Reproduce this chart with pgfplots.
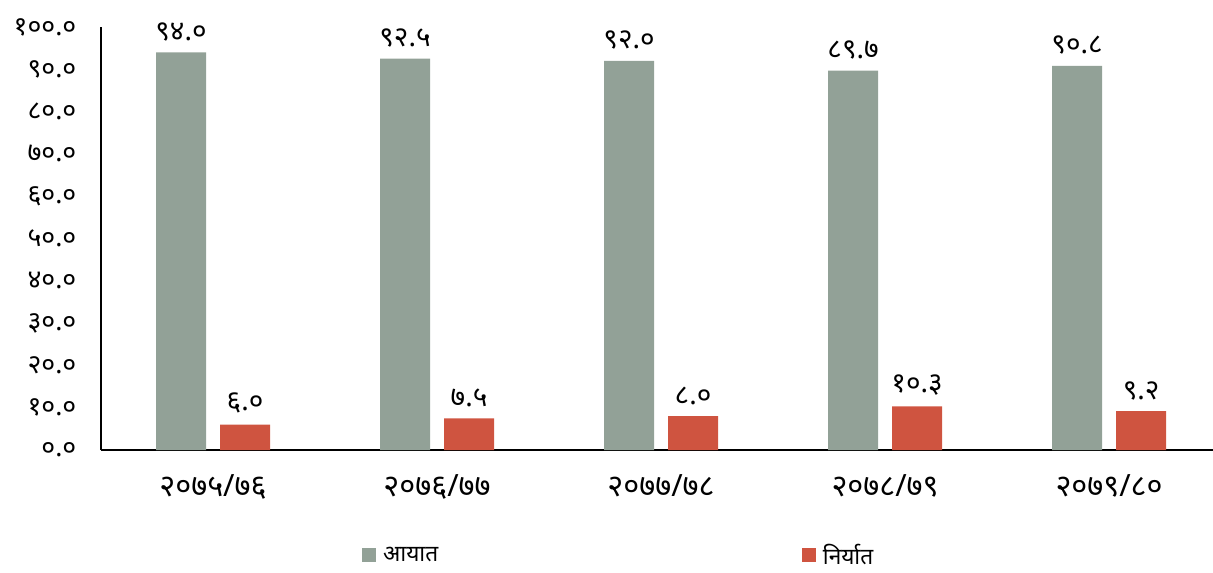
\documentclass[border=0pt]{standalone}
\usepackage{fontspec}
\setmainfont[Script=Devanagari]{Noto Sans}
\usepackage{pgfplots}
\pgfplotsset{compat=1.18}
\definecolor{aayat}{RGB}{146,161,151}
\definecolor{niryat}{RGB}{207,84,64}
\begin{document}
\begin{tikzpicture}
\begin{axis}[
    width=834pt, height=317.25pt,
    scale only axis,
    ybar,
    bar width=37.5pt,
    ymin=0, ymax=100,
    xmin=-0.5, xmax=4.464,
    axis lines=left,
    axis line style={-, line width=1.4pt},
    major tick length=0pt,
    ytick={0,10,20,30,40,50,60,70,80,90,100},
    yticklabels={०.०,१०.०,२०.०,३०.०,४०.०,५०.०,६०.०,७०.०,८०.०,९०.०,१००.०},
    xtick={0,1,2,3,4},
    xticklabels={२०७५/७६,२०७६/७७,२०७७/७८,२०७८/७९,२०७९/८०},
    yticklabel style={font=\fontsize{20}{22}\selectfont, xshift=-15pt},
    xticklabel style={font=\fontsize{23}{25}\selectfont, yshift=-15pt},
    point meta=explicit symbolic,
    nodes near coords,
    nodes near coords style={font=\fontsize{21}{23}\selectfont, anchor=south, yshift=5pt},
    legend columns=2,
    legend style={draw=none, inner sep=0pt, at={(0.4660,-0.2490)}, anchor=center,
        font=\fontsize{17}{19}\selectfont,
        /tikz/every odd column/.append style={column sep=3pt},
        /tikz/every even column/.append style={column sep=271pt}},
    legend image code/.code={\fill[#1] (0pt,-5pt) rectangle (10.5pt,5.5pt);},
]
\addplot[fill=aayat, draw=none, bar shift=-24pt] coordinates {
    (0,94.0) [९४.०]
    (1,92.5) [९२.५]
    (2,92.0) [९२.०]
    (3,89.7) [८९.७]
    (4,90.8) [९०.८]
};
\addplot[fill=niryat, draw=none, bar shift=24pt] coordinates {
    (0,6.0) [६.०]
    (1,7.5) [७.५]
    (2,8.0) [८.०]
    (3,10.3) [१०.३]
    (4,9.2) [९.२]
};
\legend{आयात,निर्यात}
\end{axis}
\pgfresetboundingbox
\path ([xshift=-75.75pt, yshift=-91.5pt]current axis.south west)
    rectangle ([yshift=20.25pt]current axis.north east);
\end{tikzpicture}
\end{document}
